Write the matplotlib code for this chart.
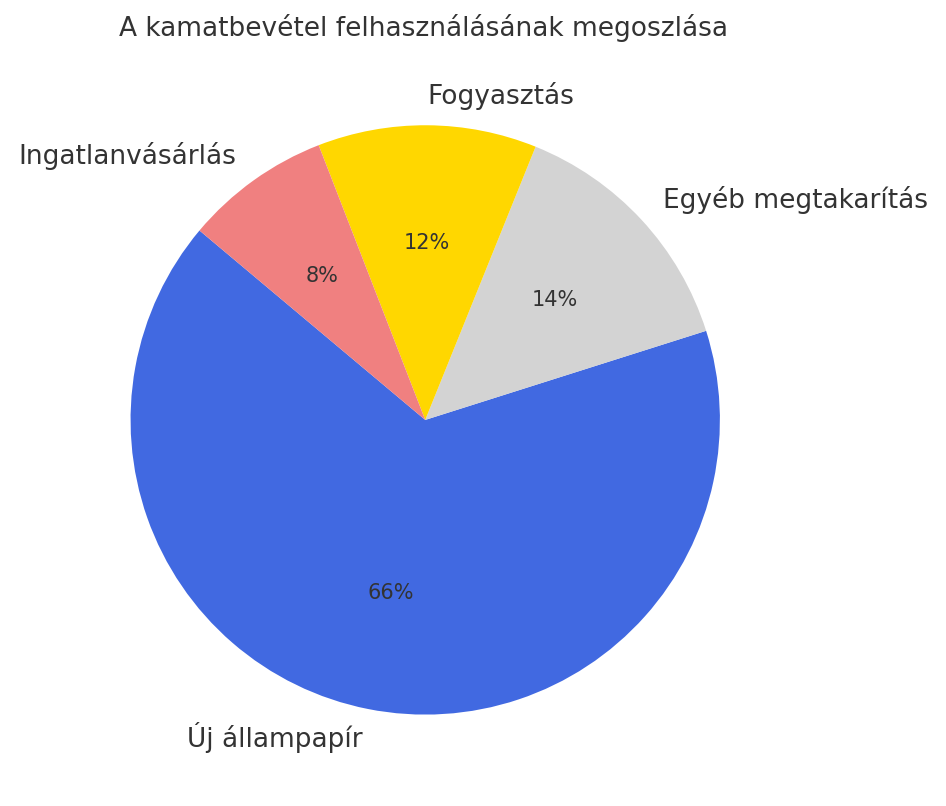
import matplotlib.pyplot as plt

labels = ["Új állampapír", "Egyéb megtakarítás", "Fogyasztás", "Ingatlanvásárlás"]
values = [66, 14, 12, 8]
colors = ["royalblue", "lightgrey", "gold", "lightcoral"]

fig = plt.figure(figsize=(9.46, 8.06), dpi=100)
ax = fig.add_axes([0.060, 0.022, 0.779, 0.914])
wedges, texts, autotexts = ax.pie(values, labels=labels, colors=colors, startangle=140,
                                  autopct='%1.0f%%', textprops={'color': '#333333', 'fontsize': 15})
for t in texts:
    t.set_fontsize(19)
ax.set_aspect('equal')
fig.text(0.448, 0.965, "A kamatbevétel felhasználásának megoszlása", ha='center', va='center',
         fontsize=19, color='#333333')
fig.savefig("out.png", dpi=100)
